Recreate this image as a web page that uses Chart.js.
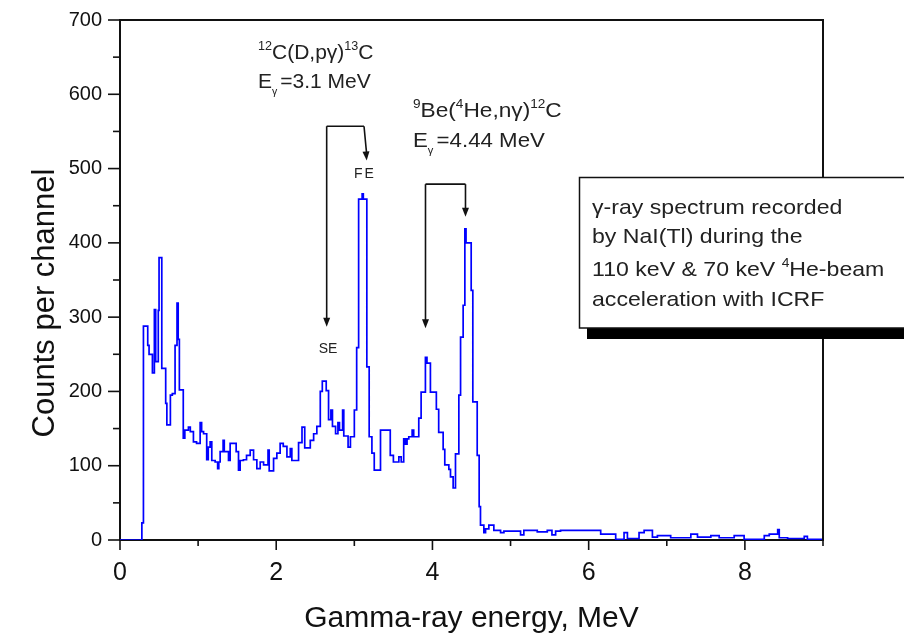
<!DOCTYPE html>
<html><head><meta charset="utf-8">
<script src="https://cdn.jsdelivr.net/npm/chart.js@4.4.1/dist/chart.umd.min.js"></script>
<style>html,body{margin:0;padding:0;background:#fff;}canvas{display:block;}</style>
</head><body>
<canvas id="c" width="904" height="640"></canvas>
<script>
// ---- data (left edge of each channel step, MeV) ----
const energyEdges = [
  0.00, 0.28, 0.30, 0.355, 0.372, 0.415, 0.44, 0.457, 0.49, 0.50,
  0.535, 0.585, 0.60, 0.645, 0.67, 0.705, 0.73, 0.745, 0.76, 0.81,
  0.83, 0.876, 0.90, 0.94, 0.98, 1.026, 1.045, 1.07, 1.11, 1.13,
  1.154, 1.175, 1.218, 1.25, 1.265, 1.282, 1.32, 1.335, 1.389, 1.41,
  1.487, 1.517, 1.538, 1.58, 1.62, 1.667, 1.71, 1.752, 1.795, 1.838,
  1.895, 1.91, 1.966, 2.008, 2.05, 2.09, 2.137, 2.18, 2.20, 2.286,
  2.33, 2.365, 2.436, 2.479, 2.52, 2.564, 2.59, 2.64, 2.67, 2.70,
  2.72, 2.76, 2.79, 2.81, 2.85, 2.865, 2.92, 2.95, 3.00, 3.03,
  3.055, 3.10, 3.115, 3.16, 3.19, 3.225, 3.255, 3.335, 3.46, 3.50,
  3.57, 3.60, 3.632, 3.654, 3.675, 3.697, 3.74, 3.76, 3.825, 3.855,
  3.91, 3.93, 3.974, 4.05, 4.08, 4.137, 4.158, 4.21, 4.231, 4.265,
  4.295, 4.338, 4.36, 4.393, 4.415, 4.43, 4.496, 4.517, 4.573, 4.598,
  4.615, 4.658, 4.68, 4.722, 4.786, 4.872, 4.915, 5.128, 5.17, 5.342,
  5.47, 5.53, 5.577, 5.64, 6.154, 6.346, 6.453, 6.496, 6.645, 6.71,
  6.816, 6.88, 7.05, 7.308, 7.393, 7.564, 7.671, 7.863, 7.99, 8.248,
  8.312, 8.42, 8.44, 8.547, 8.76, 8.80, 9.00
];
const counts = [
  0, 23, 288, 262, 250, 225, 310, 240, 309, 380,
  231, 184, 155, 195, 197, 262, 319, 270, 202, 137,
  148, 152, 146, 132, 130, 158, 146, 143, 108, 125,
  132, 107, 105, 96, 105, 119, 134, 119, 107, 130,
  119, 94, 107, 108, 114, 121, 108, 96, 105, 101,
  121, 93, 110, 117, 130, 126, 112, 123, 107, 131,
  152, 124, 134, 143, 153, 200, 214, 201, 162, 175,
  153, 143, 158, 148, 175, 140, 125, 139, 175, 259,
  459, 466, 459, 233, 139, 117, 94, 148, 114, 105,
  112, 105, 136, 129, 136, 139, 148, 139, 164, 199,
  246, 238, 199, 176, 145, 122, 101, 95, 85, 70,
  116, 195, 273, 316, 419, 400, 336, 186, 114, 45,
  20, 10, 15, 20, 13, 10, 12, 7, 13, 11,
  13, 7, 12, 13, 8, 1, 10, 2, 10, 13,
  4, 6, 3, 8, 4, 6, 3, 6, 1, 6,
  8, 14, 3, 2, 5, 1, 1
];
const xMajorTicks = [0, 2, 4, 6, 8];
const xMinorTicks = [1, 3, 5, 7, 9];
const yMajorTicks = [0, 100, 200, 300, 400, 500, 600, 700];
const yMinorTicks = [50, 150, 250, 350, 450, 550, 650];

const FONT = '"Liberation Sans", Arial, Helvetica, sans-serif';
const INK = '#222';

function rich(ctx, parts, x, y, size) {
  let cx = x;
  for (const p of parts) {
    let fs = size, dy = 0;
    if (p.sup) { fs = size * 0.6; dy = -size * 0.42; }
    if (p.sub) { fs = size * 0.5; dy = size * 0.32; }
    ctx.font = fs + 'px ' + FONT;
    ctx.fillText(p.t, cx, y + dy);
    cx += ctx.measureText(p.t).width + (p.gap || 0);
  }
}
function seg(ctx, x1, y1, x2, y2) {
  ctx.beginPath(); ctx.moveTo(x1, y1); ctx.lineTo(x2, y2); ctx.stroke();
}
function arrow(ctx, x1, y1, x2, y2) {
  seg(ctx, x1, y1, x2, y2 - 6);
  const ang = Math.atan2(y2 - y1, x2 - x1);
  const L = 9, W = 3.5;
  ctx.beginPath();
  ctx.moveTo(x2, y2);
  ctx.lineTo(x2 - L * Math.cos(ang) + W * Math.sin(ang), y2 - L * Math.sin(ang) - W * Math.cos(ang));
  ctx.lineTo(x2 - L * Math.cos(ang) - W * Math.sin(ang), y2 - L * Math.sin(ang) + W * Math.cos(ang));
  ctx.closePath(); ctx.fill();
}
function wide(ctx, parts, x, y, size, sx) {
  ctx.save();
  ctx.translate(x, y); ctx.scale(sx, 1);
  rich(ctx, parts, 0, 0, size);
  ctx.restore();
}

const decor = {
  id: 'decor',
  afterDraw(chart) {
    const { ctx, chartArea: a, scales: { x, y } } = chart;
    const X = v => x.getPixelForValue(v), Y = v => y.getPixelForValue(v);
    ctx.save();
    ctx.strokeStyle = '#111';
    ctx.fillStyle = '#111';
    ctx.lineWidth = 2;
    // frame top & right
    ctx.beginPath(); ctx.moveTo(a.left, a.top); ctx.lineTo(a.right, a.top); ctx.lineTo(a.right, a.bottom); ctx.stroke();
    // ticks
    ctx.lineWidth = 1.6;
    yMajorTicks.forEach(v => seg(ctx, a.left - 12, Y(v), a.left, Y(v)));
    yMinorTicks.forEach(v => seg(ctx, a.left - 7, Y(v), a.left, Y(v)));
    xMajorTicks.forEach(v => seg(ctx, X(v), a.bottom, X(v), a.bottom + 10));
    xMinorTicks.forEach(v => seg(ctx, X(v), a.bottom, X(v), a.bottom + 6));

    // axis titles
    ctx.fillStyle = '#111';
    ctx.textAlign = 'center'; ctx.textBaseline = 'middle';
    ctx.font = '30px ' + FONT;
    ctx.fillText('Gamma-ray energy, MeV', (a.left + a.right) / 2, 619);
    ctx.save();
    ctx.translate(45, 303); ctx.rotate(-Math.PI / 2);
    ctx.font = '31px ' + FONT;
    ctx.fillText('Counts per channel', 0, 0);
    ctx.restore();

    // reaction annotations
    ctx.fillStyle = INK;
    ctx.textAlign = 'left'; ctx.textBaseline = 'alphabetic';
    rich(ctx, [{t:'12',sup:true},{t:'C(D,pγ)'},{t:'13',sup:true},{t:'C'}], 258, 59, 21);
    rich(ctx, [{t:'E'},{t:'γ',sub:true,gap:3},{t:'=3.1 MeV'}], 258, 88, 21);
    wide(ctx, [{t:'9',sup:true},{t:'Be('},{t:'4',sup:true},{t:'He,nγ)'},{t:'12',sup:true},{t:'C'}], 413, 117, 21, 1.08);
    wide(ctx, [{t:'E'},{t:'γ',sub:true,gap:3},{t:'=4.44 MeV'}], 413, 147, 21, 1.06);

    ctx.font = '14px ' + FONT;
    ctx.textAlign = 'center'; ctx.textBaseline = 'middle';
    ctx.fillText('SE', 328, 349);
    if ('letterSpacing' in ctx) ctx.letterSpacing = '2px';
    ctx.fillText('FE', 365, 174);
    if ('letterSpacing' in ctx) ctx.letterSpacing = '0px';

    // bracket arrows (anchored in data coordinates)
    ctx.strokeStyle = '#111'; ctx.fillStyle = '#111'; ctx.lineWidth = 1.6;
    ctx.beginPath(); ctx.moveTo(X(3.124), Y(557)); ctx.lineTo(X(2.646), Y(557)); ctx.stroke();
    arrow(ctx, X(2.646), Y(557), X(2.646), Y(287));
    arrow(ctx, X(3.124), Y(557), X(3.158), Y(511));
    ctx.beginPath(); ctx.moveTo(X(3.911), Y(479)); ctx.lineTo(X(4.423), Y(479)); ctx.stroke();
    arrow(ctx, X(3.911), Y(479), X(3.911), Y(285));
    arrow(ctx, X(4.423), Y(479), X(4.423), Y(435));

    // text box with shadow
    ctx.fillStyle = '#000';
    ctx.fillRect(587, 328, 340, 11);
    ctx.fillStyle = '#fff';
    ctx.fillRect(579, 177, 340, 151);
    ctx.strokeStyle = '#111'; ctx.lineWidth = 1.5;
    ctx.strokeRect(579.5, 177.5, 340, 150.5);
    ctx.fillStyle = INK;
    ctx.textAlign = 'left'; ctx.textBaseline = 'alphabetic';
    wide(ctx, [{t:'γ-ray spectrum recorded'}], 592, 214, 21, 1.1);
    wide(ctx, [{t:'by NaI(Tl) during the'}], 592, 243, 21, 1.1);
    wide(ctx, [{t:'110 keV & 70 keV '},{t:'4',sup:true},{t:'He-beam'}], 592, 276, 21, 1.1);
    wide(ctx, [{t:'acceleration with ICRF'}], 592, 306, 21, 1.1);
    ctx.restore();
  }
};

const points = energyEdges.map((e, i) => ({ x: e, y: counts[i] }));

new Chart(document.getElementById('c'), {
  type: 'line',
  data: { datasets: [{
    data: points,
    stepped: 'before',
    borderColor: '#0000ff',
    borderWidth: 1.7,
    pointRadius: 0,
    fill: false,
    tension: 0
  }]},
  options: {
    responsive: false,
    animation: false,
    devicePixelRatio: 1,
    layout: { padding: { left: 0, right: 81, top: 20, bottom: 0 } },
    plugins: { legend: { display: false }, tooltip: { enabled: false } },
    scales: {
      x: {
        type: 'linear', min: 0, max: 9,
        afterBuildTicks: s => { s.ticks = xMajorTicks.map(v => ({ value: v })); },
        afterFit: s => { s.height = 100; },
        grid: { display: true, drawOnChartArea: false, drawTicks: true, tickLength: 10, tickColor: 'rgba(0,0,0,0)' },
        border: { display: true, color: '#111', width: 2 },
        ticks: { color: '#111', font: { family: FONT, size: 25 }, padding: 8, maxRotation: 0, callback: v => String(v) }
      },
      y: {
        type: 'linear', min: 0, max: 700,
        afterBuildTicks: s => { s.ticks = yMajorTicks.map(v => ({ value: v })); },
        afterFit: s => { s.width = 120; },
        grid: { display: true, drawOnChartArea: false, drawTicks: true, tickLength: 12, tickColor: 'rgba(0,0,0,0)' },
        border: { display: true, color: '#111', width: 2 },
        ticks: { color: '#111', font: { family: FONT, size: 20 }, padding: 6, callback: v => String(v) }
      }
    }
  },
  plugins: [decor]
});
</script>
</body></html>
